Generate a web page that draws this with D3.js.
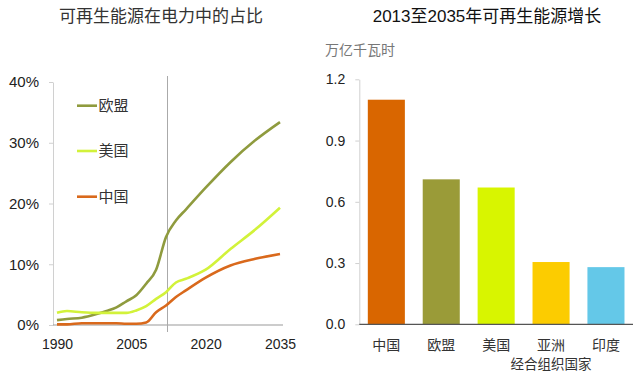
<!DOCTYPE html>
<html>
<head>
<meta charset="utf-8">
<script src="https://cdn.jsdelivr.net/npm/d3@7"></script>
<style>
  body { margin: 0; background: #fff; }
  text { font-family: "Liberation Sans", Arial, "Noto Sans CJK SC", sans-serif; }
  .cjk { font-family: "Noto Sans CJK SC", sans-serif; }
</style>
</head>
<body>
<svg id="chart"></svg>
<script>
// dati: quota rinnovabili (%) per anno
var years = [1990, 1992, 1995, 1998, 2000, 2002, 2004, 2006, 2008, 2010, 2012, 2014, 2016, 2020, 2025, 2030, 2035];
var euShare = [0.8, 1.0, 1.2, 1.8, 2.3, 2.9, 3.9, 4.9, 6.8, 9.1, 14.5, 17.2, 19.0, 22.6, 26.8, 30.4, 33.4];
var usShare = [2.0, 2.3, 2.1, 2.0, 2.0, 2.0, 2.0, 2.4, 3.1, 4.3, 5.4, 7.0, 7.6, 9.1, 12.5, 15.7, 19.3];
var cnShare = [0.1, 0.1, 0.3, 0.3, 0.3, 0.3, 0.2, 0.2, 0.4, 2.1, 3.2, 4.6, 5.7, 7.8, 9.8, 10.9, 11.7];
var lineNames = ["欧盟", "美国", "中国"];
var yearTicks = [1990, 2005, 2020, 2035];
var shareTicks = [0, 10, 20, 30, 40];
var markYear = 2012.3;

// crescita 2013-2035 (migliaia di miliardi kWh)
var barCats = ["中国", "欧盟", "美国", "亚洲", "印度"];
var barSub = ["", "", "", "经合组织国家", ""];
var barVals = [1.10, 0.71, 0.67, 0.305, 0.28];
var growthTicks = [0, 0.3, 0.6, 0.9, 1.2];

var lineColors = ["#8f9b3e", "#d2f23a", "#d9691c"];
var barColors = ["#d96600", "#9a9b38", "#d8f500", "#fccc00", "#64c8e8"];

var w = 640, h = 373;
var svg = d3.select("#chart").attr("width", w).attr("height", h);

// ---------- grafico a linee (sinistra) ----------
var x = d3.scaleLinear().domain([1990, 2035]).range([57, 280]);
var y = d3.scaleLinear().domain([0, 40]).range([325, 82]);

svg.append("text")
  .attr("class", "cjk")
  .attr("x", 161).attr("y", 22)
  .attr("text-anchor", "middle")
  .style("font-size", "17px")
  .style("fill", "#333")
  .text("可再生能源在电力中的占比");

var yAx = svg.append("g")
  .attr("transform", "translate(53,0)")
  .call(d3.axisLeft(y).tickValues(shareTicks).tickSize(4).tickSizeOuter(0).tickPadding(10)
    .tickFormat(function(d) { return d + "%"; }));
yAx.select(".domain").attr("stroke", "#d0d0d0");
yAx.selectAll(".tick line").attr("stroke", "#d0d0d0");
yAx.selectAll(".tick text").style("font-size", "15px").style("fill", "#222");

var xAx = svg.append("g")
  .attr("transform", "translate(0,325)")
  .call(d3.axisBottom(x).tickValues(yearTicks).tickSize(0).tickPadding(14).tickFormat(d3.format("d")));
xAx.select(".domain").remove();
xAx.selectAll(".tick text").style("font-size", "14px").style("fill", "#222");
svg.append("line")
  .attr("x1", 53).attr("x2", 283)
  .attr("y1", 325).attr("y2", 325)
  .attr("stroke", "#9a9a9a").attr("stroke-width", 1.2);

// linea verticale al 2013
svg.append("line")
  .attr("x1", x(markYear)).attr("x2", x(markYear))
  .attr("y1", 76).attr("y2", 332)
  .attr("stroke", "#aaa").attr("stroke-width", 1);

var series = [euShare, usShare, cnShare];
var line = d3.line()
  .x(function(d, i) { return x(years[i]); })
  .y(function(d) { return y(d); })
  .curve(d3.curveMonotoneX);

series.forEach(function(s, i) {
  svg.append("path")
    .datum(s)
    .attr("d", line)
    .attr("fill", "none")
    .attr("stroke", lineColors[i])
    .attr("stroke-width", 2.6)
    .attr("stroke-linejoin", "round");
});

// legenda
var legY = [105.7, 151, 196.7];
lineNames.forEach(function(n, i) {
  svg.append("line")
    .attr("x1", 77).attr("x2", 97)
    .attr("y1", legY[i]).attr("y2", legY[i])
    .attr("stroke", lineColors[i]).attr("stroke-width", 2.6);
  svg.append("text")
    .attr("class", "cjk")
    .attr("x", 98.5).attr("y", legY[i])
    .attr("dy", "0.35em")
    .style("font-size", "15px")
    .style("fill", "#333")
    .text(n);
});

// ---------- grafico a barre (destra) ----------
var xb = d3.scaleBand().domain(barCats).range([359.3, 633]).paddingInner(0.325).paddingOuter(0.155);
var yb = d3.scaleLinear().domain([0, 1.2]).range([324.3, 79.3]);

svg.append("text")
  .attr("x", 487).attr("y", 22)
  .attr("text-anchor", "middle")
  .style("font-size", "17px")
  .style("fill", "#111")
  .text("2013至2035年可再生能源增长");

svg.append("text")
  .attr("class", "cjk")
  .attr("x", 325).attr("y", 55)
  .style("font-size", "14px")
  .style("fill", "#777")
  .text("万亿千瓦时");

var ybAx = svg.append("g")
  .attr("transform", "translate(359.3,0)")
  .call(d3.axisLeft(yb).tickValues(growthTicks).tickSize(4).tickSizeOuter(0).tickPadding(10)
    .tickFormat(d3.format(".1f")));
ybAx.select(".domain").attr("stroke", "#d0d0d0");
ybAx.selectAll(".tick line").attr("stroke", "#d0d0d0");
ybAx.selectAll(".tick text").style("font-size", "14px").style("fill", "#222");

svg.selectAll(".bar")
  .data(barVals)
  .enter()
  .append("rect")
  .attr("class", "bar")
  .attr("x", function(d, i) { return xb(barCats[i]); })
  .attr("y", function(d) { return yb(d); })
  .attr("width", xb.bandwidth())
  .attr("height", function(d) { return yb(0) - yb(d); })
  .attr("fill", function(d, i) { return barColors[i]; });

svg.append("line")
  .attr("x1", 359.3).attr("x2", 633)
  .attr("y1", 324.3).attr("y2", 324.3)
  .attr("stroke", "#555").attr("stroke-width", 1.2);

barCats.forEach(function(c, i) {
  var cx = xb(c) + xb.bandwidth() / 2;
  svg.append("text")
    .attr("class", "cjk")
    .attr("x", cx).attr("y", 349.5)
    .attr("text-anchor", "middle")
    .style("font-size", "14px")
    .style("fill", "#333")
    .text(c);
  if (barSub[i]) {
    svg.append("text")
      .attr("class", "cjk")
      .attr("x", cx).attr("y", 369)
      .attr("text-anchor", "middle")
      .style("font-size", "13.5px")
      .style("fill", "#333")
      .text(barSub[i]);
  }
});
</script>
</body>
</html>
